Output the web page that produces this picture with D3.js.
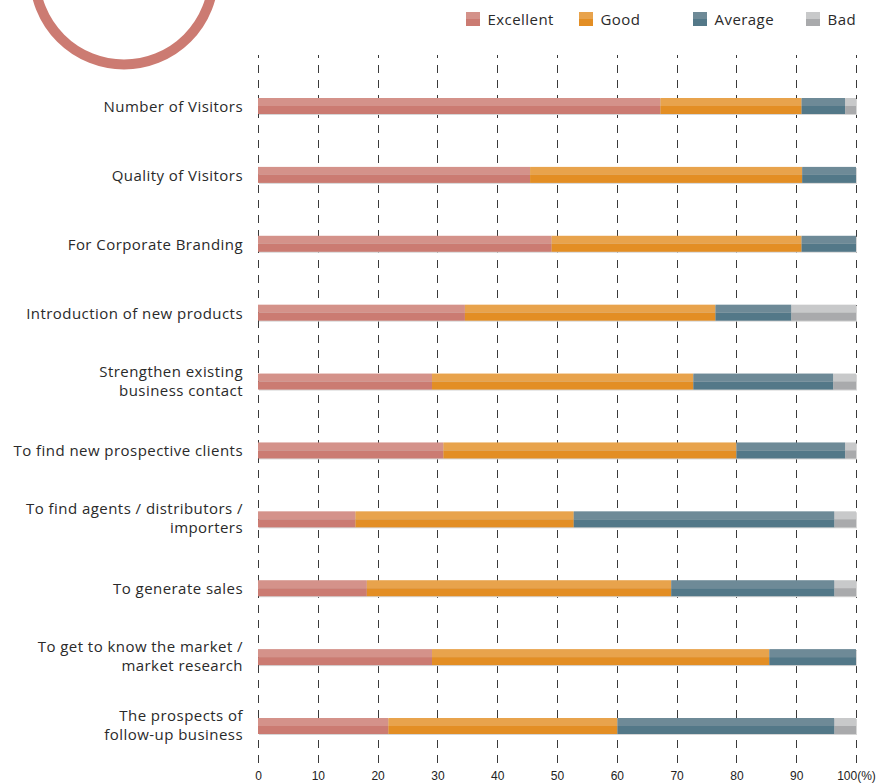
<!DOCTYPE html>
<html>
<head>
<meta charset="utf-8">
<script src="https://cdn.jsdelivr.net/npm/d3@7/dist/d3.min.js"></script>
<style>
  html, body { margin: 0; padding: 0; background: #fff; }
  svg { display: block; }
</style>
</head>
<body>
<svg id="chart" width="893" height="784"></svg>
<script>
// ---- data ----
const categories = [
  "Number of Visitors",
  "Quality of Visitors",
  "For Corporate Branding",
  "Introduction of new products",
  "Strengthen existing|business contact",
  "To find new prospective clients",
  "To find agents / distributors /|importers",
  "To generate sales",
  "To get to know the market /|market research",
  "The prospects of|follow-up business"
];
const seriesNames = ["Excellent", "Good", "Average", "Bad"];
const excellent = [67.3, 45.5, 49.1, 34.6, 29.1, 31.0, 16.3, 18.2, 29.1, 21.8];
const good      = [23.6, 45.5, 41.8, 41.9, 43.7, 49.0, 36.5, 50.9, 56.4, 38.3];
const average   = [ 7.3,  9.0,  9.1, 12.7, 23.4, 18.2, 43.6, 27.3, 14.5, 36.3];
const bad       = [ 1.8,  0.0,  0.0, 10.8,  3.8,  1.8,  3.6,  3.6,  0.0,  3.6];
const tickValues = [0, 10, 20, 30, 40, 50, 60, 70, 80, 90, 100];
const tickLabels = ["0", "10", "20", "30", "40", "50", "60", "70", "80", "90", "100(%)"];

const lightColors = ["#d4928a", "#e8a34c", "#6e8a97", "#c8c9ca"];
const darkColors  = ["#cb7b72", "#e38e24", "#537888", "#a9aaac"];

// ---- build ----
const rows = categories.map((c, i) => ({
  cat: c, Excellent: excellent[i], Good: good[i], Average: average[i], Bad: bad[i]
}));
const stacked = d3.stack().keys(seriesNames)(rows);

const svg = d3.select("#chart");
const x = d3.scaleLinear().domain([0, 100]).range([258, 856]);
const y = d3.scalePoint().domain(categories).range([106, 726]);
const barH = 16;
const labelFont = "'Open Sans', 'DejaVu Sans', sans-serif";

// decorative ring (top-left)
svg.append("circle")
  .attr("cx", 124).attr("cy", -25).attr("r", 89.5)
  .attr("fill", "none").attr("stroke", "#cc7b72").attr("stroke-width", 10);

// gridlines
svg.append("g").selectAll("line")
  .data(tickValues).join("line")
  .attr("x1", d => Math.round(x(d)) + 0.5).attr("x2", d => Math.round(x(d)) + 0.5)
  .attr("y1", 55).attr("y2", 768)
  .attr("stroke", "#3a3a3a").attr("stroke-width", 1)
  .attr("stroke-dasharray", "8,7").attr("stroke-dashoffset", 5);

// bar shadows
svg.append("g").selectAll("rect")
  .data(categories).join("rect")
  .attr("x", x(0) + 1).attr("y", d => y(d) - barH / 2 + 1)
  .attr("width", x(100) - x(0)).attr("height", barH)
  .attr("fill", "#d6d6d6");

// bars
const layers = svg.append("g").selectAll("g")
  .data(stacked).join("g");
layers.each(function(layer, li) {
  const g = d3.select(this);
  const segs = layer.filter(s => s[1] - s[0] > 0);
  g.selectAll("rect.top").data(segs).join("rect").attr("class", "top")
    .attr("x", s => x(s[0])).attr("width", s => x(s[1]) - x(s[0]))
    .attr("y", s => y(s.data.cat) - barH / 2).attr("height", barH / 2)
    .attr("fill", lightColors[li]);
  g.selectAll("rect.bot").data(segs).join("rect").attr("class", "bot")
    .attr("x", s => x(s[0])).attr("width", s => x(s[1]) - x(s[0]))
    .attr("y", s => y(s.data.cat)).attr("height", barH / 2)
    .attr("fill", darkColors[li]);
});

// category labels
const labelG = svg.append("g")
  .attr("font-family", labelFont)
  .attr("font-size", "15px").attr("letter-spacing", "0.45px")
  .attr("fill", "#2a2a2a").attr("text-anchor", "end");
categories.forEach(c => {
  const lines = c.split("|");
  const cy = y(c);
  const lh = 19;
  const first = lines.length > 1 ? cy + 4.5 - lh / 2 : cy + 6;
  lines.forEach((ln, k) => {
    labelG.append("text").attr("x", 243).attr("y", first + k * lh).text(ln);
  });
});

// bottom axis labels
const axis = d3.axisBottom(x).tickValues(tickValues)
  .tickFormat((d, i) => tickLabels[i]).tickSize(0).tickPadding(0);
const axG = svg.append("g").attr("transform", "translate(0,771)").call(axis);
axG.select(".domain").remove();
axG.selectAll("text")
  .attr("font-family", "'Liberation Sans', Arial, sans-serif")
  .attr("font-size", "12px").attr("fill", "#222").attr("dy", "0.71em");

// legend
const legendX = [466, 579, 693, 806];
const lg = svg.append("g").selectAll("g").data(seriesNames).join("g")
  .attr("transform", (d, i) => `translate(${legendX[i]},12)`);
lg.append("rect").attr("width", 14).attr("height", 7).attr("fill", (d, i) => lightColors[i]);
lg.append("rect").attr("y", 7).attr("width", 14).attr("height", 7).attr("fill", (d, i) => darkColors[i]);
lg.append("text").attr("x", 21.5).attr("y", 12.5)
  .attr("font-family", labelFont)
  .attr("font-size", "15px").attr("letter-spacing", "0.45px")
  .attr("fill", "#2a2a2a").text(d => d);
</script>
</body>
</html>
